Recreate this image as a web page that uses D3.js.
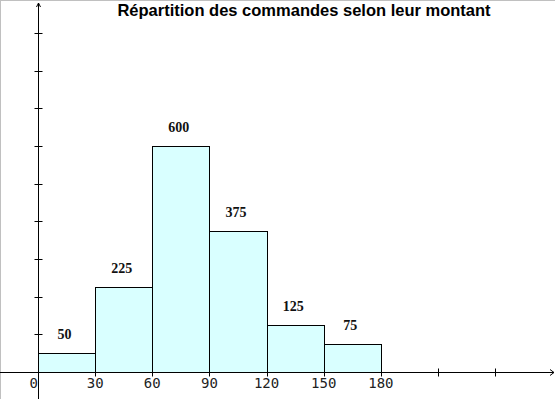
<!DOCTYPE html>
<html>
<head>
<meta charset="utf-8">
<script src="https://cdn.jsdelivr.net/npm/d3@7"></script>
<style>
  body { margin: 0; background: #fff; }
  #chart svg { display: block; }
</style>
</head>
<body>
<div id="chart"></div>
<script>
// histogram data
var binStarts = [0, 30, 60, 90, 120, 150];
var binEnds = [30, 60, 90, 120, 150, 180];
var counts = [50, 225, 600, 375, 125, 75];
var xTicks = [0, 30, 60, 90, 120, 150, 180, 210, 240];
var xTickLabels = ['0', '30', '60', '90', '120', '150', '180', '', ''];
var yTicks = [100, 200, 300, 400, 500, 600, 700, 800, 900];
var title = 'Répartition des commandes selon leur montant';

var width = 555, height = 399;

var svg = d3.select('#chart').append('svg')
    .attr('width', width)
    .attr('height', height);

// frame (top / left gray border)
svg.append('line').attr('x1', 0).attr('x2', width).attr('y1', 0.5).attr('y2', 0.5)
    .style('stroke', '#c0c0c0');
svg.append('line').attr('x1', 0.5).attr('x2', 0.5).attr('y1', 0).attr('y2', height)
    .style('stroke', '#c0c0c0');

// scales
var x = d3.scaleLinear().domain([0, 271.4]).range([38, 555]);
var y = d3.scaleLinear().domain([0, 980]).range([372, 3]);

// bars
svg.selectAll('rect.bar')
    .data(counts)
    .enter().append('rect')
    .attr('class', 'bar')
    .attr('x', function (d, i) { return Math.round(x(binStarts[i])) + 0.5; })
    .attr('y', function (d) { return Math.round(y(d)) + 0.5; })
    .attr('width', function (d, i) { return Math.round(x(binEnds[i])) - Math.round(x(binStarts[i])); })
    .attr('height', function (d) { return Math.round(y(0)) - Math.round(y(d)); })
    .style('fill', '#d9ffff')
    .style('stroke', '#000')
    .style('stroke-width', 1);

// value labels
svg.selectAll('text.val')
    .data(counts)
    .enter().append('text')
    .attr('class', 'val')
    .attr('x', function (d, i) { return (x(binStarts[i]) + x(binEnds[i])) / 2 - 2; })
    .attr('y', function (d) { return y(d) - 14; })
    .style('text-anchor', 'middle')
    .style('font-family', '"Liberation Serif", "Times New Roman", serif')
    .style('font-weight', 'bold')
    .style('font-size', '14px')
    .style('fill', '#111')
    .text(function (d) { return d; });

// x axis
var y0 = Math.round(y(0)) + 0.5;
svg.append('line')
    .attr('x1', 0).attr('x2', width - 1)
    .attr('y1', y0).attr('y2', y0)
    .style('stroke', '#000');
svg.append('path')
    .attr('d', 'M' + (width - 5) + ',' + (y0 - 3) + 'L' + (width - 1) + ',' + y0 + 'L' + (width - 5) + ',' + (y0 + 3))
    .style('fill', 'none')
    .style('stroke', '#000');

svg.selectAll('line.xtick')
    .data(xTicks.slice(1))
    .enter().append('line')
    .attr('class', 'xtick')
    .attr('x1', function (d) { return Math.round(x(d)) + 0.5; })
    .attr('x2', function (d) { return Math.round(x(d)) + 0.5; })
    .attr('y1', y0 - 4).attr('y2', y0 + 4)
    .style('stroke', '#000');

svg.selectAll('text.xlab')
    .data(xTicks)
    .enter().append('text')
    .attr('class', 'xlab')
    .attr('x', function (d) { return d === 0 ? x(d) : x(d); })
    .attr('y', 388)
    .style('text-anchor', function (d) { return d === 0 ? 'end' : 'middle'; })
    .style('font-family', '"DejaVu Sans Mono", monospace')
    .style('font-size', '14px')
    .style('fill', '#222')
    .text(function (d, i) { return xTickLabels[i]; });

// y axis
var x0 = Math.round(x(0)) + 0.5;
svg.append('line')
    .attr('x1', x0).attr('x2', x0)
    .attr('y1', 3).attr('y2', height)
    .style('stroke', '#000');
svg.append('path')
    .attr('d', 'M' + (x0 - 2) + ',' + 7 + 'L' + x0 + ',' + 3 + 'L' + (x0 + 2) + ',' + 7)
    .style('fill', 'none')
    .style('stroke', '#000');

svg.selectAll('line.ytick')
    .data(yTicks)
    .enter().append('line')
    .attr('class', 'ytick')
    .attr('x1', x0 - 4).attr('x2', x0 + 4)
    .attr('y1', function (d) { return Math.round(y(d)) + 0.5; })
    .attr('y2', function (d) { return Math.round(y(d)) + 0.5; })
    .style('stroke', '#000');

// title
svg.append('text')
    .attr('x', 304)
    .attr('y', 16)
    .style('text-anchor', 'middle')
    .style('font-family', '"Liberation Sans", Arial, sans-serif')
    .style('font-weight', 'bold')
    .style('font-size', '16.5px')
    .style('fill', '#000')
    .text(title);
</script>
</body>
</html>
